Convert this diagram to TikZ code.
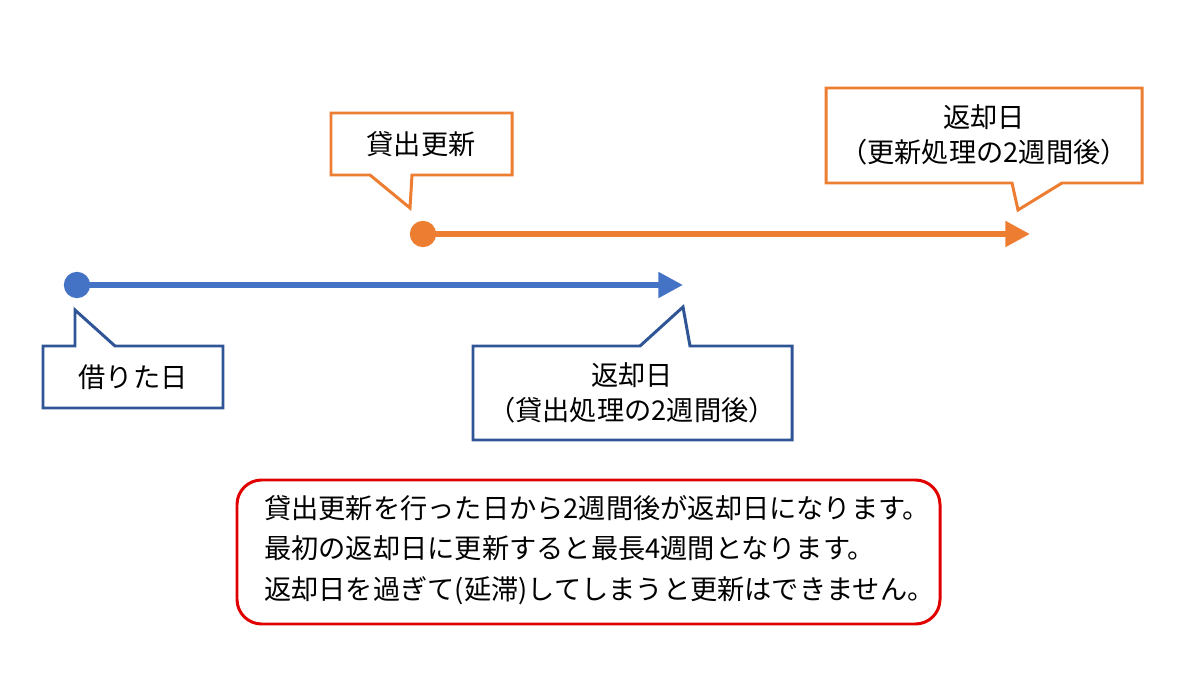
\documentclass[tikz,border=0pt]{standalone}
\usepackage{fontspec}
\setmainfont{Noto Sans CJK JP}
\usetikzlibrary{positioning,arrows.meta}
\definecolor{lineblue}{HTML}{4472C4}
\definecolor{boxblue}{HTML}{2F5597}
\definecolor{lineorange}{HTML}{ED7D31}
\definecolor{notered}{HTML}{E00000}
\tikzset{
	txt/.style={font=\fontsize{15.5pt}{20pt}\selectfont,align=center},
	bluebox/.style={draw=boxblue,line width=1.7pt,fill=white,line join=miter},
	orangebox/.style={draw=lineorange,line width=1.7pt,fill=white,line join=miter},
	period/.style={line width=3.4pt,-{Triangle[length=14pt,width=14pt]}},
	dot/.style={circle,fill,inner sep=0pt,minimum size=15pt}
}
\begin{document}
\begin{tikzpicture}[x=0.02cm,y=-0.02cm]
	\useasboundingbox (0,0) rectangle (1200,692);
	
	%Periodes
	\node[dot,lineblue] (lend) at (77,285) {};
	\coordinate (lendend) at (683,285);
	\draw[period,lineblue] (lend.center) -- (lendend);
	\node[dot,lineorange] (renew) at (423,234) {};
	\coordinate (renewend) at (1030,234);
	\draw[period,lineorange] (renew.center) -- (renewend);
	
	%Bulles bleues
	\draw[bluebox] (43,346) -- (75,346) -- (75,310) -- (115,346) -- (223,346) -- (223,408) -- (43,408) -- cycle;
	\node[txt] (lendlabel) at (133,377) {借りた日};
	\draw[bluebox] (473,346) -- (640,346) -- (683,307) -- (690,346) -- (792,346) -- (792,440) -- (473,440) -- cycle;
	\node[txt] (duelabel) at (632,393) {返却日\\（貸出処理の2週間後）};
	
	%Bulles orange
	\draw[orangebox] (331,113) -- (512,113) -- (512,175) -- (412,175) -- (410,208) -- (370,175) -- (331,175) -- cycle;
	\node[txt] (renewlabel) at (421,144) {貸出更新};
	\draw[orangebox] (826,88) -- (1142,88) -- (1142,183) -- (1062,183) -- (1018,210) -- (1012,183) -- (826,183) -- cycle;
	\node[txt] (newduelabel) at (984,135) {返却日\\（更新処理の2週間後）};
	
	%Note
	\draw[notered,line width=1.7pt,rounded corners=14pt] (237,480) rectangle (940,624);
	\node[txt,align=left,anchor=west,font=\fontsize{15.5pt}{23pt}\selectfont] (note) at (258,550) {貸出更新を行った日から2週間後が返却日になります。\\最初の返却日に更新すると最長4週間となります。\\返却日を過ぎて(延滞)してしまうと更新はできません。};
\end{tikzpicture}
\end{document}
